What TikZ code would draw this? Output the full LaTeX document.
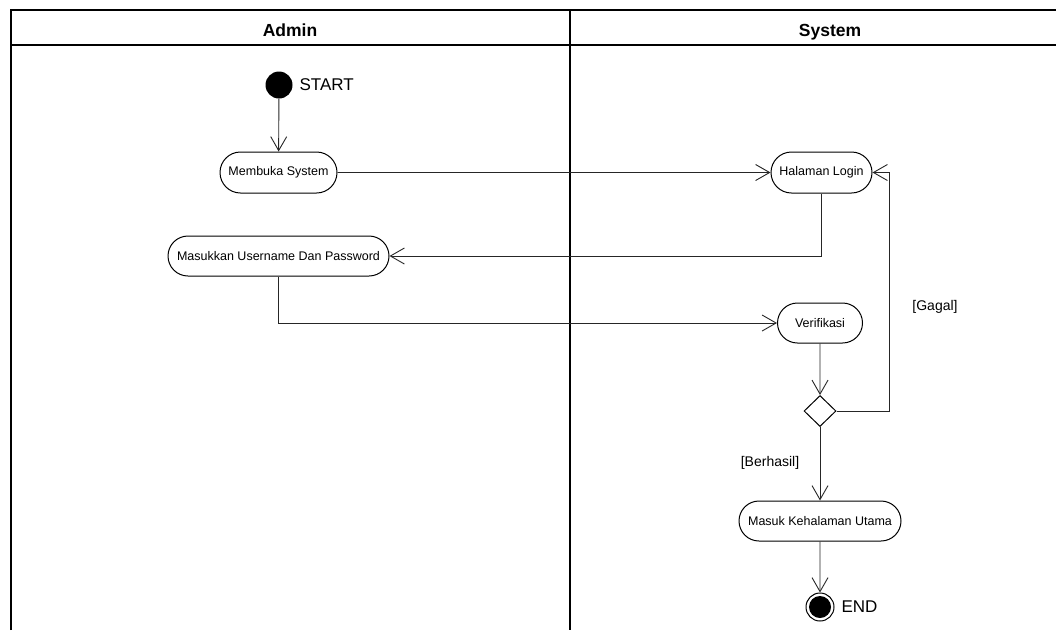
\documentclass[tikz,border=0pt]{standalone}
\usepackage{fontspec}
\setmainfont{Liberation Sans}
\usetikzlibrary{arrows.meta,shapes.misc,shapes.geometric}
\begin{document}
\begin{tikzpicture}[x=1pt,y=-1pt,
  act/.style={draw, rounded rectangle, inner sep=0pt, line width=1pt,
    font=\fontsize{12.5}{14}\selectfont},
  arr/.style={line width=0.9pt, draw=black!85, -{Straight Barb[length=14pt,width=16pt,line width=0.9pt]}},
  lane/.style={line width=2pt},
  head/.style={font=\fontsize{17.5}{20}\selectfont\bfseries, anchor=base},
  lbl/.style={font=\fontsize{14}{16}\selectfont},
  big/.style={font=\fontsize{17}{20}\selectfont}
]
\useasboundingbox (0,0) rectangle (1056,630);
% swimlanes
\draw[lane] (10.5,630) -- (10.5,9.5) -- (1056,9.5);
\draw[lane] (10.5,44.5) -- (1056,44.5);
\draw[line width=2.6pt] (570,9.5) -- (570,630);
\node[head] (hA) at (290,36) {Admin};
\node[head] (hS) at (830,36) {System};
% nodes
\node[circle, fill=black, minimum size=27pt, inner sep=0pt] (start) at (279,85) {};
\node[big, anchor=west] (startl) at (296,85) {START};
\node[act, minimum width=117pt, minimum height=41pt] (membuka) at (278.5,172.5) {Membuka System};
\node[act, minimum width=101pt, minimum height=41pt] (halaman) at (821.5,172.5) {Halaman Login};
\node[act, minimum width=221pt, minimum height=40pt] (masukkan) at (278.5,256) {Masukkan Username Dan Password};
\node[act, minimum width=85pt, minimum height=40pt] (verif) at (820,323) {Verifikasi};
\node[draw, diamond, line width=1pt, inner sep=0pt, minimum width=32pt, minimum height=31pt] (dec) at (820,411) {};
\node[act, minimum width=162pt, minimum height=40pt] (masuk) at (820,521) {Masuk Kehalaman Utama};
\node[circle, draw, line width=1pt, minimum size=28pt, inner sep=0pt] (end) at (820,607) {};
\fill (end.center) circle (11pt);
\node[big, anchor=west] (endl) at (838,607) {END};
\node[lbl] (gagal) at (935,307) {[Gagal]};
\node[lbl] (berhasil) at (770,463) {[Berhasil]};
\coordinate (g) at (889,411);
% connectors
\draw[arr] (start) -- (membuka);
\draw[arr] (membuka) -- (halaman);
\draw[arr] (halaman.south) |- (masukkan.east);
\draw[arr] (masukkan.south) |- (verif.west);
\draw[arr] (verif) -- (dec);
\draw[arr] (dec.east) -- (g) |- (halaman.east);
\draw[arr] (dec) -- (masuk);
\draw[arr] (masuk) -- (end);
\end{tikzpicture}
\end{document}
